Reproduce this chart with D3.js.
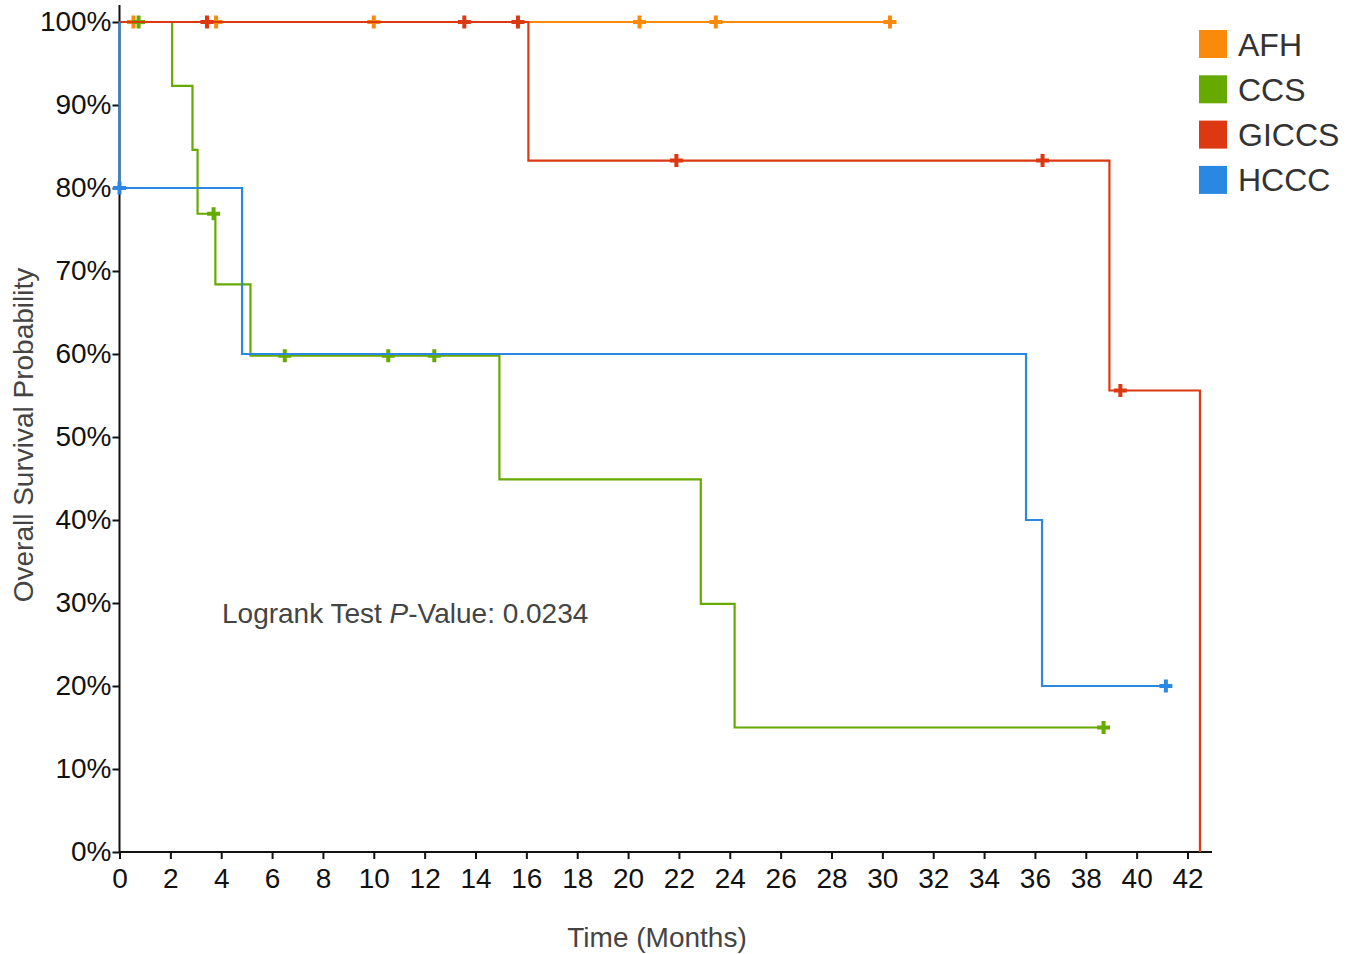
<!DOCTYPE html>
<html>
<head>
<meta charset="utf-8">
<script src="https://cdn.jsdelivr.net/npm/d3@7"></script>
<style>
  body { margin: 0; background: #fff; }
  svg text { font-family: "Liberation Sans", Arial, sans-serif; }
</style>
</head>
<body>
<div id="chart"></div>
<script>
// groups and colours
const groups = ['AFH', 'CCS', 'GICCS', 'HCCC'];
const colors = ['#f98a0b', '#66aa00', '#dc3912', '#2b88e2'];

// step points [time, survival %] for each group
const stepsAFH = [[0, 100]];
const stepsCCS = [[0, 100], [2.07, 92.3], [2.87, 84.6], [3.07, 76.9], [3.77, 68.4], [5.15, 59.8], [14.94, 44.9], [22.86, 29.9], [24.19, 15.0]];
const stepsGICCS = [[0, 100], [16.08, 83.3], [38.93, 55.6], [42.49, 0]];
const stepsHCCC = [[0, 100], [0, 80], [4.82, 60], [35.65, 40], [36.28, 20]];

// last follow-up time
const endTimes = [30.3, 38.7, 42.49, 41.15];

// censored times
const censAFH = [0.55, 3.8, 10.0, 20.45, 23.45, 30.3];
const censCCS = [0.75, 3.7, 6.5, 10.57, 12.38, 38.7];
const censGICCS = [3.44, 13.56, 15.67, 21.9, 36.3, 39.36];
const censHCCC = [0, 41.15];

const xTicks = d3.range(0, 43, 2);
const yTicks = d3.range(0, 101, 10);

const pValueText = '0.0234';

const allSteps = [stepsAFH, stepsCCS, stepsGICCS, stepsHCCC];
const allCens = [censAFH, censCCS, censGICCS, censHCCC];

const W = 1357, H = 954;
const svg = d3.select('#chart').append('svg').attr('width', W).attr('height', H);

const x = d3.scaleLinear().domain([0, 42]).range([119.5, 1187.5]);
const y = d3.scaleLinear().domain([0, 100]).range([852, 22]);

// survival at time t (value after the last step at or before t)
function survAt(steps, t) {
    let s = steps[0][1];
    steps.forEach(function(p) { if (p[0] <= t) s = p[1]; });
    return s;
}

//Eje X
const xAxis = svg.append('g')
    .attr('transform', 'translate(0,852)')
    .call(d3.axisBottom(x).tickValues(xTicks).tickSize(7).tickPadding(9).tickFormat(d3.format('d')));
xAxis.select('.domain').remove();
xAxis.selectAll('.tick line').attr('stroke', '#111').attr('stroke-width', 2);
xAxis.selectAll('.tick text').attr('font-size', 28).attr('fill', '#111').attr('dy', '0.71em');
svg.append('line').attr('x1', 119.5).attr('x2', 1212).attr('y1', 852).attr('y2', 852)
    .attr('stroke', '#111').attr('stroke-width', 2);

//Eje Y
const yAxis = svg.append('g')
    .attr('transform', 'translate(119.5,0)')
    .call(d3.axisLeft(y).tickValues(yTicks).tickSize(7).tickPadding(1).tickFormat(function(d) { return d + '%'; }));
yAxis.select('.domain').remove();
yAxis.selectAll('.tick line').attr('stroke', '#111').attr('stroke-width', 2);
yAxis.selectAll('.tick text').attr('font-size', 28).attr('fill', '#111');
svg.append('line').attr('x1', 119.5).attr('x2', 119.5).attr('y1', 5).attr('y2', 853)
    .attr('stroke', '#111').attr('stroke-width', 2);

// axis titles
svg.append('text')
    .attr('x', 657).attr('y', 947)
    .attr('text-anchor', 'middle').attr('font-size', 28).attr('fill', '#444')
    .text('Time (Months)');
svg.append('text')
    .attr('transform', 'translate(33,435) rotate(-90)')
    .attr('text-anchor', 'middle').attr('font-size', 28).attr('fill', '#444')
    .text('Overall Survival Probability');

// curves
const line = d3.line()
    .x(function(d) { return x(d[0]); })
    .y(function(d) { return y(d[1]); })
    .curve(d3.curveStepAfter);

groups.forEach(function(g, i) {
    const steps = allSteps[i];
    const pts = steps.concat([[endTimes[i], steps[steps.length - 1][1]]]);
    svg.append('path')
        .datum(pts)
        .attr('fill', 'none')
        .attr('stroke', colors[i])
        .attr('stroke-width', 2.2)
        .attr('d', line);

    svg.append('g').selectAll('path')
        .data(allCens[i])
        .enter()
        .append('path')
        .attr('transform', function(t) { return 'translate(' + x(t) + ',' + y(survAt(steps, t)) + ')'; })
        .attr('d', 'M-6.5,0H6.5M0,-6.5V6.5')
        .attr('stroke', colors[i])
        .attr('stroke-width', 4);
});

// logrank text
const pt = svg.append('text')
    .attr('x', 222).attr('y', 623)
    .attr('font-size', 28).attr('fill', '#444');
pt.append('tspan').text('Logrank Test ');
pt.append('tspan').attr('font-style', 'italic').text('P');
pt.append('tspan').text('-Value: ' + pValueText);

// legend
const legend = svg.append('g').selectAll('g')
    .data(groups)
    .enter()
    .append('g')
    .attr('transform', function(d, i) { return 'translate(1199,' + (30 + i * 45.3) + ')'; });
legend.append('rect')
    .attr('width', 28).attr('height', 28)
    .attr('fill', function(d, i) { return colors[i]; });
legend.append('text')
    .attr('x', 39).attr('y', 25.5)
    .attr('font-size', 32).attr('fill', '#333')
    .text(function(d) { return d; });
</script>
</body>
</html>
